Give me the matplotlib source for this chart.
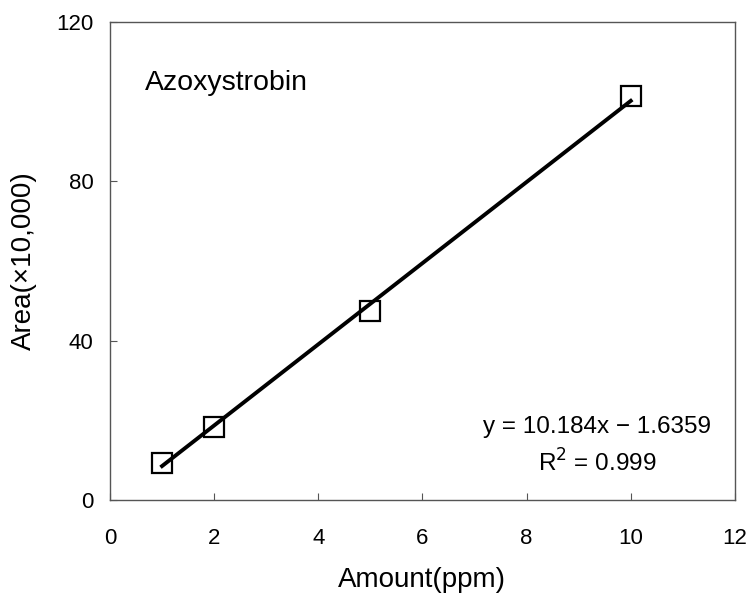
import numpy as np
import matplotlib.pyplot as plt

plt.rcParams['font.family'] = ['Liberation Sans', 'DejaVu Sans']

amount = [1, 2, 5, 10]
area = [9.3, 18.3, 47.5, 101.5]
slope = 10.184
intercept = -1.6359
r2 = 0.999

fig = plt.figure(figsize=(7.53, 5.94), dpi=100)
ax = fig.add_axes([0.146, 0.158, 0.830, 0.805])

# fitted calibration line over the measured range
xs = np.array([min(amount), max(amount)])
ax.plot(xs, slope * xs + intercept, color='black', lw=2.8, zorder=2)
ax.plot(amount, area, ls='none', marker='s', markersize=15, mfc='none',
        mec='black', mew=1.6, zorder=3)

ax.set_xlim(0, 12)
ax.set_ylim(0, 120)
ax.set_xticks(range(0, 13, 2))
ax.set_yticks([0, 40, 80, 120])
ax.tick_params(direction='in', length=5, labelsize=16, color='#555555')
ax.tick_params(axis='x', pad=20)
ax.tick_params(axis='y', pad=12)
for s in ax.spines.values():
    s.set_color('#555555')
    s.set_linewidth(1.0)

ax.set_xlabel('Amount(ppm)', fontsize=20, labelpad=13)
ax.set_ylabel('Area(\u00d710,000)', fontsize=20, labelpad=14)

ax.text(0.67, 104.7, 'Azoxystrobin', fontsize=20.5, va='center', ha='left')
ax.text(11.55, 18.4, f'y = {slope}x \u2212 {abs(intercept)}', fontsize=17.5,
        ha='right', va='center')
ax.text(9.35, 9.3, f'R$^2$ = {r2}', fontsize=17.5, ha='center', va='center')

fig.savefig('out.png', dpi=100)
